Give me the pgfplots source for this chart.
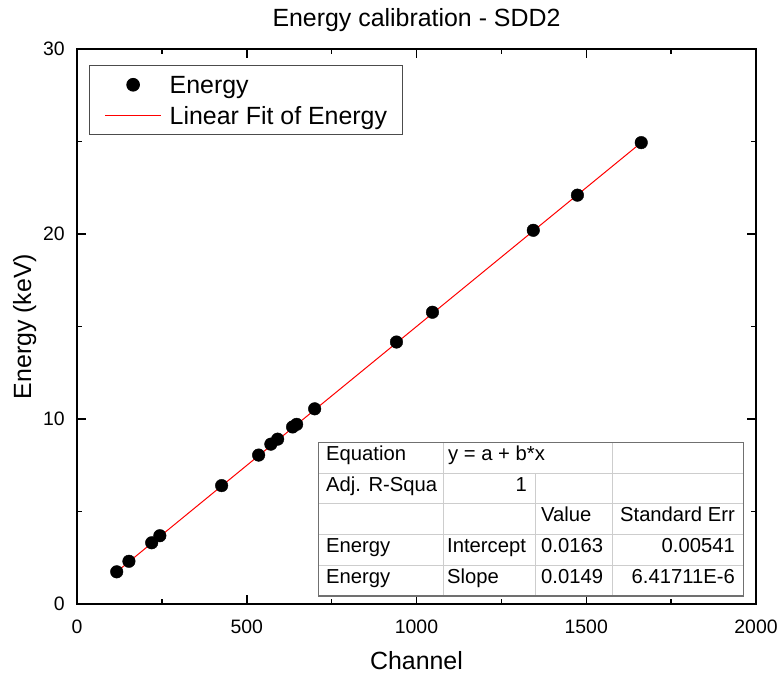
\documentclass[border=0pt]{standalone}
\usepackage{fontspec}
\setmainfont{Liberation Sans}
\usepackage{pgfplots}
\usepackage{pgfplotstable}
\pgfplotsset{compat=1.18}
\pgfplotsset{legimg/.style={legend image code/.code={\draw[mark repeat=2,mark phase=2,##1] plot coordinates {(0bp,0bp) (28bp,0bp) (56bp,0bp)};}},
  legimgline/.style={legend image code/.code={\draw[##1, draw=red, line width=1.2bp] (0bp,0bp) -- (56bp,0bp);}}}
\pgfplotstableread{
x y
117 1.74
153 2.31
220 3.31
244 3.69
426 6.40
535 8.05
571 8.64
591 8.91
635 9.57
647 9.71
700 10.55
941 14.16
1047 15.77
1344 20.20
1474 22.10
1662 24.94
}\energydata
\pgfplotstableread{
x y
117 1.74
1662 24.94
}\fitdata
\definecolor{tblouter}{RGB}{112,112,112}
\definecolor{tblinner}{RGB}{205,205,205}
\begin{document}
\begin{tikzpicture}
\begin{axis}[
  name=ax,
  scale only axis,
  width=679bp, height=555bp,
  xmin=0, xmax=2000, ymin=0, ymax=30,
  xtick={0,500,1000,1500,2000},
  ytick={0,10,20,30},
  minor x tick num=1, minor y tick num=1,
  tick align=inside,
  major tick length=9bp, minor tick length=5bp,
  every tick/.style={black, line width=1.5bp},
  axis line style={line width=2bp},
  /pgf/number format/assume math mode=true,
  /pgf/number format/1000 sep={},
  scaled ticks=false,
  xticklabel style={font=\fontsize{19.5}{23}\selectfont, anchor=base, yshift=-29bp},
  yticklabel style={font=\fontsize{19.5}{23}\selectfont, anchor=east, inner sep=0pt, xshift=-12bp},
  xlabel={Channel}, ylabel={Energy (keV)},
  xlabel style={font=\fontsize{25}{30}\selectfont, at={(axis description cs:0.5,-0.1189)}, anchor=base},
  ylabel style={font=\fontsize{25}{30}\selectfont, at={(axis description cs:-0.0677,0.5)}, anchor=base},
  title={Energy calibration - SDD2},
  title style={font=\fontsize{25}{30}\selectfont, at={(axis description cs:0.5,1.0306)}, anchor=base},
  legend style={at={(axis description cs:0.0177,0.9712)}, anchor=north west,
    draw=black!70, line width=1bp, font=\fontsize{25}{30}\selectfont,
    inner xsep=15bp, inner ysep=5.3bp, row sep=2.7bp, column sep=8bp,
    nodes={inner sep=0pt, text height=23bp, text depth=5bp}},
  legend cell align=left,
]
\addplot[only marks, mark=*, mark size=6.3bp, black, legimg]
  table[x=x,y=y] {\energydata};
\addlegendentry{Energy}
\addplot[red, line width=1bp, no marks, legimgline]
  table[x=x,y=y] {\fitdata};
\addlegendentry{Linear Fit of Energy}
\end{axis}
\begin{scope}[shift={(ax.south west)}, x=1bp, y=1bp, font=\fontsize{20.3}{24}\selectfont]
  \fill[white] (241.3,8) rectangle (666.3,161.3);
  \draw[tblinner, line width=1bp] (241.3,130.6) -- (666.3,130.6);
  \draw[tblinner, line width=1bp] (241.3,100) -- (666.3,100);
  \draw[tblinner, line width=1bp] (241.3,69.3) -- (666.3,69.3);
  \draw[tblinner, line width=1bp] (241.3,38.7) -- (666.3,38.7);
  \draw[tblinner, line width=1bp] (366.3,8) -- (366.3,161.3);
  \draw[tblinner, line width=1bp] (458.3,8) -- (458.3,130.6);
  \draw[tblinner, line width=1bp] (535.7,8) -- (535.7,161.3);
  \draw[tblouter, line width=1.3bp] (241.3,8) rectangle (666.3,161.3);
  \node[anchor=base west, inner sep=0pt] at (249,143.5) {Equation};
  \node[anchor=base west, inner sep=0pt] at (371,143.5) {y = a + b*x};
  \node[anchor=base west, inner sep=0pt] at (249,112.8) {Adj. R-Squa};
  \node[anchor=base east, inner sep=0pt] at (450,112.8) {1};
  \node[anchor=base west, inner sep=0pt] at (464,82.1) {Value};
  \node[anchor=base east, inner sep=0pt] at (658,82.1) {Standard Err};
  \node[anchor=base west, inner sep=0pt] at (249,51.5) {Energy};
  \node[anchor=base west, inner sep=0pt] at (370,51.5) {Intercept};
  \node[anchor=base west, inner sep=0pt] at (464,51.5) {0.0163};
  \node[anchor=base east, inner sep=0pt] at (658,51.5) {0.00541};
  \node[anchor=base west, inner sep=0pt] at (249,20.8) {Energy};
  \node[anchor=base west, inner sep=0pt] at (370,20.8) {Slope};
  \node[anchor=base west, inner sep=0pt] at (464,20.8) {0.0149};
  \node[anchor=base east, inner sep=0pt] at (658,20.8) {6.41711E-6};
\end{scope}
\pgfresetboundingbox
\path[use as bounding box] (ax.south west) ++(-77bp,-73bp) rectangle ++(781bp,677bp);
\end{tikzpicture}
\end{document}
